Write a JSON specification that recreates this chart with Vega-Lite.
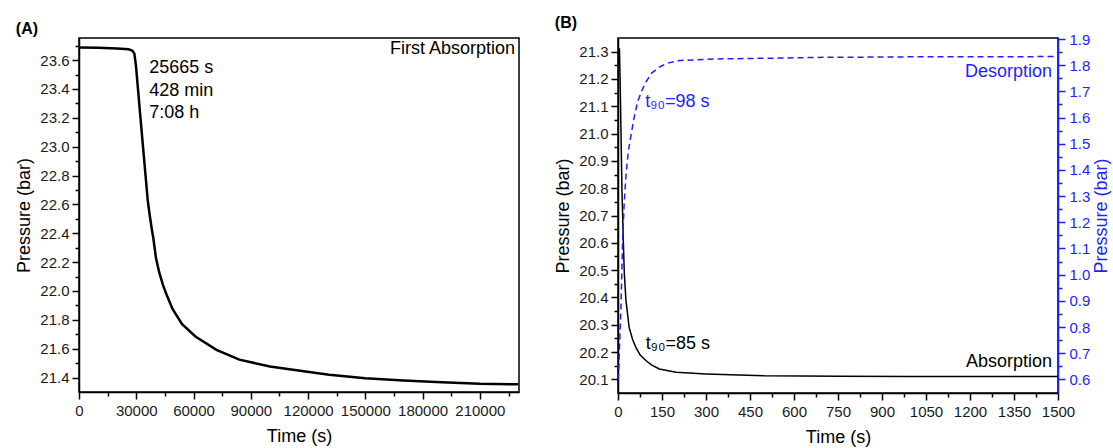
{
  "$schema": "https://vega.github.io/schema/vega-lite/v6.json",
  "padding": {"left": 15, "top": 14, "right": 0, "bottom": 0},
  "bounds": "flush",
  "spacing": 99,
  "config": {
    "font": "Liberation Sans",
    "view": {"stroke": "#000", "strokeWidth": 1.5},
    "axis": {"grid": false, "domainColor": "#000", "domainWidth": 1.5, "tickColor": "#000", "tickWidth": 1.5, "labelFontSize": 15, "labelColor": "#1a1a1a", "titleFontSize": 18, "titleFontWeight": "normal", "titleColor": "#000", "labelFlush": false, "labelOverlap": false, "labelPadding": 3},
    "title": {"fontSize": 16, "fontWeight": "bold", "anchor": "start", "frame": "bounds", "offset": 1, "color": "#000"},
    "text": {"font": "Liberation Sans", "fontSize": 18}
  },
  "datasets": {
    "curveA": [
      {"t": 0, "p": 23.688}, {"t": 10000, "p": 23.685}, {"t": 20000, "p": 23.68}, {"t": 26000, "p": 23.675},
      {"t": 28000, "p": 23.665}, {"t": 29000, "p": 23.645}, {"t": 29850, "p": 23.56}, {"t": 32000, "p": 23.23},
      {"t": 34000, "p": 22.93}, {"t": 36000, "p": 22.63}, {"t": 37000, "p": 22.53}, {"t": 38000, "p": 22.44},
      {"t": 39000, "p": 22.36}, {"t": 40300, "p": 22.23}, {"t": 42000, "p": 22.13}, {"t": 44000, "p": 22.04},
      {"t": 46000, "p": 21.97}, {"t": 49000, "p": 21.875}, {"t": 54000, "p": 21.77}, {"t": 61000, "p": 21.685},
      {"t": 72000, "p": 21.592}, {"t": 84000, "p": 21.524}, {"t": 100000, "p": 21.477}, {"t": 114000, "p": 21.45},
      {"t": 131000, "p": 21.42}, {"t": 150000, "p": 21.396}, {"t": 170000, "p": 21.38}, {"t": 190000, "p": 21.367},
      {"t": 210000, "p": 21.357}, {"t": 230000, "p": 21.353}
    ],
    "labA_left": [
      {"t": 36800, "p": 23.544, "label": "25665 s"},
      {"t": 36800, "p": 23.385, "label": "428 min"},
      {"t": 36800, "p": 23.232, "label": "7:08 h"}
    ],
    "labA_right": [
      {"t": 228450, "p": 23.676, "label": "First Absorption"}
    ],
    "absB": [
      {"t": 0, "p": 21.31}, {"t": 5, "p": 21.31}, {"t": 8, "p": 21.15}, {"t": 11, "p": 20.95}, {"t": 13.6, "p": 20.79},
      {"t": 18, "p": 20.61}, {"t": 21.5, "p": 20.49}, {"t": 27, "p": 20.39}, {"t": 38, "p": 20.29}, {"t": 50, "p": 20.245},
      {"t": 61, "p": 20.217}, {"t": 75, "p": 20.19}, {"t": 95, "p": 20.169}, {"t": 115, "p": 20.152}, {"t": 141, "p": 20.138},
      {"t": 198, "p": 20.126}, {"t": 300, "p": 20.12}, {"t": 413, "p": 20.116}, {"t": 500, "p": 20.113}, {"t": 754, "p": 20.111},
      {"t": 1000, "p": 20.11}, {"t": 1500, "p": 20.11}
    ],
    "desB": [
      {"t": 0, "p": 0.6}, {"t": 2, "p": 0.622}, {"t": 6, "p": 0.75}, {"t": 10, "p": 0.87}, {"t": 15.7, "p": 1.127},
      {"t": 21, "p": 1.27}, {"t": 27.3, "p": 1.381}, {"t": 35, "p": 1.47}, {"t": 44.3, "p": 1.533}, {"t": 55, "p": 1.6},
      {"t": 66.8, "p": 1.66}, {"t": 80, "p": 1.7}, {"t": 95.4, "p": 1.736}, {"t": 115, "p": 1.77}, {"t": 140.7, "p": 1.793},
      {"t": 170, "p": 1.808}, {"t": 209, "p": 1.818}, {"t": 334, "p": 1.824}, {"t": 527, "p": 1.827}, {"t": 700, "p": 1.83},
      {"t": 1000, "p": 1.832}, {"t": 1500, "p": 1.833}
    ],
    "labB_absR": [{"t": 1480, "p": 20.162, "label": "Absorption"}],
    "labB_absL": [{"t": 95, "p": 20.23, "label": "t₉₀=85 s"}],
    "labB_desR": [{"t": 1480, "p": 1.774, "label": "Desorption"}],
    "labB_desL": [{"t": 93, "p": 1.66, "label": "t₉₀=98 s"}]
  },
  "hconcat": [
    {
      "width": 440,
      "height": 354,
      "title": {"text": "(A)"},
      "encoding": {
        "x": {"field": "t", "type": "quantitative",
          "scale": {"domain": [0, 230500], "nice": false, "zero": false},
          "axis": {"title": "Time (s)", "format": "d", "titlePadding": 9, "labelPadding": 4,
            "values": [0, 15000, 30000, 45000, 60000, 75000, 90000, 105000, 120000, 135000, 150000, 165000, 180000, 195000, 210000, 225000],
            "tickSize": {"condition": {"test": "datum.value % 30000 === 0", "value": 7}, "value": 4},
            "labelExpr": "datum.value % 30000 === 0 ? datum.label : ''"}},
        "y": {"field": "p", "type": "quantitative",
          "scale": {"domain": [21.3, 23.753], "nice": false, "zero": false},
          "axis": {"title": "Pressure (bar)", "format": ".1f", "titlePadding": 6,
            "values": [21.4, 21.5, 21.6, 21.7, 21.8, 21.9, 22.0, 22.1, 22.2, 22.3, 22.4, 22.5, 22.6, 22.7, 22.8, 22.9, 23.0, 23.1, 23.2, 23.3, 23.4, 23.5, 23.6, 23.7],
            "tickSize": {"condition": {"test": "abs(datum.value*5 - round(datum.value*5)) < 0.001", "value": 7}, "value": 4},
            "labelExpr": "abs(datum.value*5 - round(datum.value*5)) < 0.001 ? datum.label : ''"}}
      },
      "layer": [
        {
          "data": {"name": "curveA"},
          "mark": {"type": "line", "color": "#000", "strokeWidth": 2.5}
        },
        {
          "data": {"name": "labA_left"},
          "mark": {"type": "text", "align": "left", "baseline": "middle", "color": "#000"},
          "encoding": {"text": {"field": "label"}}
        },
        {
          "data": {"name": "labA_right"},
          "mark": {"type": "text", "align": "right", "baseline": "middle", "color": "#000"},
          "encoding": {"text": {"field": "label"}}
        }
      ]
    },
    {
      "width": 440,
      "height": 355,
      "title": {"text": "(B)"},
      "encoding": {
        "x": {"field": "t", "type": "quantitative",
          "scale": {"domain": [0, 1500], "nice": false, "zero": false},
          "axis": {"title": "Time (s)", "format": "d", "titlePadding": 9, "labelPadding": 4,
            "values": [0, 75, 150, 225, 300, 375, 450, 525, 600, 675, 750, 825, 900, 975, 1050, 1125, 1200, 1275, 1350, 1425, 1500],
            "tickSize": {"condition": {"test": "datum.value % 150 === 0", "value": 7}, "value": 4},
            "labelExpr": "datum.value % 150 === 0 ? datum.label : ''"}}
      },
      "layer": [
        {
          "encoding": {
            "y": {"field": "p", "type": "quantitative",
              "scale": {"domain": [20.05, 21.35], "nice": false, "zero": false},
              "axis": {"title": "Pressure (bar)", "orient": "left", "format": ".1f", "titlePadding": 6,
                "values": [20.1, 20.15, 20.2, 20.25, 20.3, 20.35, 20.4, 20.45, 20.5, 20.55, 20.6, 20.65, 20.7, 20.75, 20.8, 20.85, 20.9, 20.95, 21.0, 21.05, 21.1, 21.15, 21.2, 21.25, 21.3],
                "tickSize": {"condition": {"test": "abs(datum.value*10 - round(datum.value*10)) < 0.001", "value": 7}, "value": 4},
                "labelExpr": "abs(datum.value*10 - round(datum.value*10)) < 0.001 ? datum.label : ''"}}
          },
          "layer": [
            {
              "data": {"name": "absB"},
              "mark": {"type": "line", "color": "#000", "strokeWidth": 1.5}
            },
            {
              "data": {"name": "labB_absR"},
              "mark": {"type": "text", "align": "right", "baseline": "middle", "color": "#000"},
              "encoding": {"text": {"field": "label"}}
            },
            {
              "data": {"name": "labB_absL"},
              "mark": {"type": "text", "align": "left", "baseline": "middle", "color": "#000"},
              "encoding": {"text": {"field": "label"}}
            }
          ]
        },
        {
          "encoding": {
            "y": {"field": "p", "type": "quantitative",
              "scale": {"domain": [0.548, 1.904], "nice": false, "zero": false},
              "axis": {"title": "Pressure (bar)", "orient": "right", "format": ".1f", "titlePadding": 3, "titleAngle": 270, "titleBaseline": "top", "labelPadding": 4,
                "domainColor": "#1e1eff", "tickColor": "#1e1eff", "labelColor": "#1e1eff", "titleColor": "#1e1eff",
                "values": [0.6, 0.65, 0.7, 0.75, 0.8, 0.85, 0.9, 0.95, 1.0, 1.05, 1.1, 1.15, 1.2, 1.25, 1.3, 1.35, 1.4, 1.45, 1.5, 1.55, 1.6, 1.65, 1.7, 1.75, 1.8, 1.85, 1.9],
                "tickSize": {"condition": {"test": "abs(datum.value*10 - round(datum.value*10)) < 0.001", "value": 7}, "value": 4},
                "labelExpr": "abs(datum.value*10 - round(datum.value*10)) < 0.001 ? datum.label : ''"}}
          },
          "layer": [
            {
              "data": {"name": "desB"},
              "mark": {"type": "line", "color": "#1e1eff", "strokeWidth": 1.5, "strokeDash": [6, 4]}
            },
            {
              "data": {"name": "labB_desR"},
              "mark": {"type": "text", "align": "right", "baseline": "middle", "color": "#1e1eff"},
              "encoding": {"text": {"field": "label"}}
            },
            {
              "data": {"name": "labB_desL"},
              "mark": {"type": "text", "align": "left", "baseline": "middle", "color": "#1e1eff"},
              "encoding": {"text": {"field": "label"}}
            }
          ]
        }
      ],
      "resolve": {"scale": {"y": "independent"}}
    }
  ]
}
